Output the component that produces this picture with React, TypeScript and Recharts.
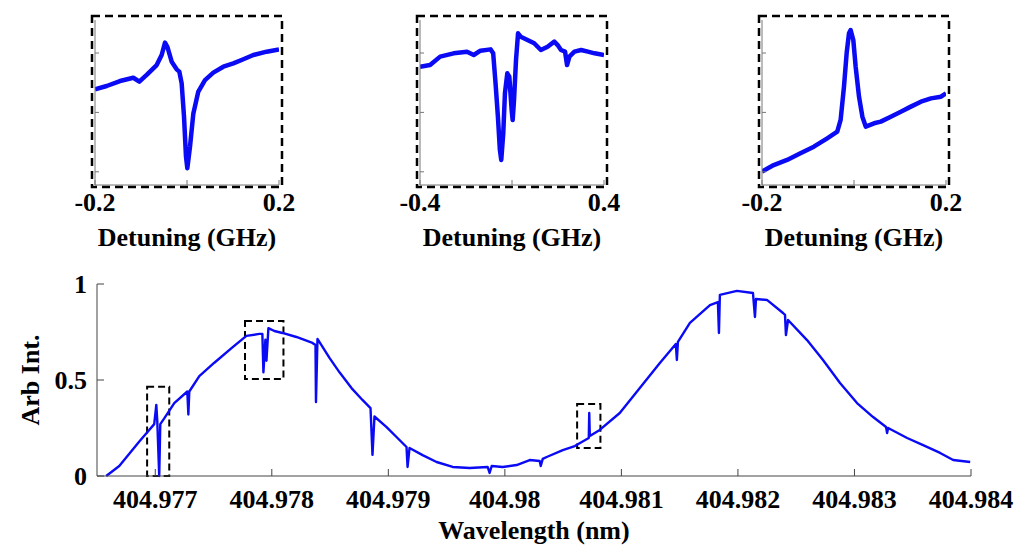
import React from 'react';
import { LineChart, Line, XAxis, YAxis, ReferenceArea, Label } from 'recharts';

// ---------- main spectrum ----------
const WAVELENGTH_NM = [
  404.976579, 404.976691, 404.976863, 404.976948, 404.976991, 404.977009, 404.977017, 404.977034, 404.977043, 404.977077,
  404.977163, 404.977275, 404.977284, 404.977292, 404.977378, 404.977507, 404.977662, 404.977782, 404.977893, 404.977919,
  404.977928, 404.977945, 404.977954, 404.977971, 404.978022, 404.978091, 404.978211, 404.978349, 404.978375, 404.978379,
  404.978392, 404.978495, 404.978581, 404.978684, 404.978778, 404.978847, 404.978864, 404.978881, 404.978985, 404.97907,
  404.979156, 404.979165, 404.979182, 404.979294, 404.979414, 404.979552, 404.979698, 404.979852, 404.979869, 404.979887,
  404.979981, 404.980101, 404.980213, 404.980299, 404.980308, 404.980325, 404.980359, 404.980497, 404.9806, 404.98072,
  404.980724, 404.980729, 404.980814, 404.980986, 404.981158, 404.98133, 404.981467, 404.981476, 404.981485, 404.981588,
  404.98176, 404.981828, 404.981837, 404.981845, 404.981991, 404.982129, 404.982146, 404.982155, 404.982249, 404.982387,
  404.982404, 404.982412, 404.98243, 404.982593, 404.98273, 404.982876, 404.983022, 404.98316, 404.983271, 404.98328,
  404.983289, 404.983452, 404.983589, 404.983735, 404.983847, 404.983993,
];
const ARB_INTENSITY = [
  0.0, 0.052, 0.18, 0.24, 0.27, 0.37, 0.29, 0.0, 0.27, 0.3,
  0.38, 0.44, 0.32, 0.44, 0.52, 0.59, 0.67, 0.73, 0.74, 0.74,
  0.54, 0.71, 0.6, 0.77, 0.755, 0.745, 0.724, 0.693, 0.682, 0.385,
  0.714, 0.615, 0.54, 0.458, 0.396, 0.354, 0.11, 0.31, 0.255, 0.203,
  0.151, 0.047, 0.146, 0.109, 0.073, 0.047, 0.042, 0.047, 0.016, 0.052,
  0.047, 0.057, 0.083, 0.078, 0.052, 0.089, 0.099, 0.135, 0.156, 0.198,
  0.328, 0.208, 0.24, 0.328, 0.458, 0.589, 0.688, 0.604, 0.698, 0.797,
  0.89, 0.906, 0.745, 0.943, 0.964, 0.953, 0.828, 0.922, 0.917, 0.849,
  0.839, 0.734, 0.8125, 0.708, 0.604, 0.484, 0.38, 0.307, 0.255, 0.224,
  0.25, 0.198, 0.161, 0.12, 0.083, 0.073,
];
const MAIN_X_TICKS = [404.977, 404.978, 404.979, 404.98, 404.981, 404.982, 404.983, 404.984];
const MAIN_Y_TICKS = [0, 0.5, 1];
const MAIN_X_DOMAIN = [404.9765, 404.984];

// dashed boxes marking the zoomed regions
const BOX_X1 = [404.97693, 404.97777, 404.98062];
const BOX_X2 = [404.97712, 404.9781, 404.98082];
const BOX_Y1 = [0, 0.505, 0.146];
const BOX_Y2 = [0.465, 0.807, 0.375];

// ---------- insets ----------
const INSET1_DETUNING = [
  -0.2, -0.1746, -0.1457, -0.1167, -0.1036, -0.0877, -0.0659, -0.0551, -0.0478, -0.0428,
  -0.0333, -0.0225, -0.0167, -0.0116, -0.0065, -0.0022, 0.0007, 0.0065, 0.0138, 0.0246,
  0.0391, 0.0572, 0.079, 0.1007, 0.1225, 0.1442, 0.1732, 0.2,
];
const INSET1_SIGNAL = [
  0.58, 0.6, 0.63, 0.65, 0.626, 0.667, 0.727, 0.788, 0.863, 0.838,
  0.747, 0.701, 0.687, 0.616, 0.414, 0.172, 0.101, 0.232, 0.434, 0.566,
  0.636, 0.681, 0.717, 0.737, 0.762, 0.788, 0.808, 0.822,
];
const INSET2_DETUNING = [
  -0.4, -0.3562, -0.3124, -0.254, -0.1956, -0.1664, -0.1372, -0.0934, -0.0818, -0.0715,
  -0.0613, -0.0526, -0.0467, -0.038, -0.0307, -0.0204, -0.0117, -0.0015, 0.0029, 0.0088,
  0.0175, 0.0263, 0.038, 0.0672, 0.0964, 0.1255, 0.1547, 0.1839, 0.1985, 0.2131,
  0.2307, 0.2394, 0.2496, 0.2715, 0.3007, 0.3299, 0.3591, 0.4,
];
const INSET2_SIGNAL = [
  0.717, 0.727, 0.778, 0.798, 0.808, 0.788, 0.814, 0.822, 0.798, 0.616,
  0.414, 0.212, 0.152, 0.313, 0.556, 0.677, 0.657, 0.455, 0.394, 0.515,
  0.758, 0.919, 0.899, 0.879, 0.859, 0.818, 0.838, 0.869, 0.848, 0.818,
  0.808, 0.727, 0.778, 0.808, 0.818, 0.808, 0.798, 0.788,
];
const INSET3_DETUNING = [
  -0.2, -0.1745, -0.1455, -0.1164, -0.0873, -0.0582, -0.0364, -0.0291, -0.0218, -0.016,
  -0.0109, -0.0073, -0.0015, 0.0036, 0.0109, 0.0182, 0.0255, 0.0436, 0.0582, 0.08,
  0.1018, 0.1236, 0.1455, 0.1673, 0.1891, 0.2,
];
const INSET3_SIGNAL = [
  0.081, 0.121, 0.152, 0.192, 0.232, 0.283, 0.323, 0.394, 0.596, 0.798,
  0.919, 0.939, 0.879, 0.717, 0.535, 0.414, 0.354, 0.374, 0.384, 0.414,
  0.444, 0.475, 0.505, 0.525, 0.535, 0.556,
];
const INSET1_X_TICKS = [-0.2, 0, 0.2];
const INSET2_X_TICKS = [-0.4, 0, 0.4];
const INSET3_X_TICKS = [-0.2, 0, 0.2];
const INSET_Y_TICKS = [0.08, 0.44, 0.8];

const FONT = 'Liberation Serif, DejaVu Serif, Times New Roman, serif';
const BLUE = '#0a0af5';
const TEXT_STYLE: React.CSSProperties = {
  fontFamily: FONT,
  fontSize: 26,
  fontWeight: 700,
  fill: '#000',
};
const TICK_STYLE = { fontFamily: FONT, fontSize: 26, fontWeight: 700, fill: '#000', style: TEXT_STYLE };

const mainData = WAVELENGTH_NM.map((w, i) => ({ w, v: ARB_INTENSITY[i] }));

const fmtMain = (v: number) => String(Number(v.toFixed(3)));
const blank = () => '';

type InsetProps = {
  xs: number[];
  ys: number[];
  ticks: number[];
  plotLeft: number;
};

const PLOT_TOP = 20;
const PLOT_BOTTOM = 185;
const PLOT_W = 184;
const SIDE = 45;

function Inset({ xs, ys, ticks, plotLeft }: InsetProps) {
  const data = xs.map((x, i) => ({ x, y: ys[i] }));
  const lo = ticks[0];
  const hi = ticks[ticks.length - 1];
  const fmt = (v: number) => (v === 0 ? '' : String(v));
  const width = PLOT_W + SIDE * 2;
  const height = 262;
  return (
    <div style={{ position: 'absolute', left: plotLeft - SIDE, top: 0, width, height }}>
      <LineChart
        width={width}
        height={height}
        data={data}
        margin={{ top: PLOT_TOP, right: SIDE, bottom: 0, left: 0 }}
        style={{ fontFamily: FONT }}
      >
        <XAxis
          xAxisId="b"
          dataKey="x"
          type="number"
          domain={[lo, hi]}
          ticks={ticks}
          tickFormatter={fmt}
          height={height - PLOT_BOTTOM}
          tickSize={-5}
          tickMargin={13}
          stroke="#777"
          tick={TICK_STYLE}
          allowDataOverflow
        >
          <Label value="Detuning (GHz)" position="center" dy={13} style={TEXT_STYLE} />
        </XAxis>
        <XAxis
          xAxisId="t"
          orientation="top"
          dataKey="x"
          type="number"
          domain={[lo, hi]}
          ticks={ticks}
          tickFormatter={blank}
          height={0}
          tickSize={-5}
          stroke="#777"
          allowDataOverflow
        />
        <YAxis
          yAxisId="l"
          type="number"
          domain={[0, 1]}
          ticks={INSET_Y_TICKS}
          tickFormatter={blank}
          width={SIDE}
          tickSize={-4}
          stroke="#777"
        />
        <YAxis
          yAxisId="r"
          orientation="right"
          type="number"
          domain={[0, 1]}
          ticks={INSET_Y_TICKS}
          tickFormatter={blank}
          width={0}
          tickSize={-4}
          stroke="#777"
        />
        <Line
          xAxisId="b"
          yAxisId="l"
          type="linear"
          dataKey="y"
          stroke={BLUE}
          strokeWidth={4.5}
          strokeLinejoin="round"
          dot={false}
          isAnimationActive={false}
        />
      </LineChart>
      <svg
        width={width}
        height={height}
        style={{ position: 'absolute', left: 0, top: 0, pointerEvents: 'none' }}
      >
        <rect
          x={SIDE - 3}
          y={PLOT_TOP - 4}
          width={PLOT_W + 6}
          height={PLOT_BOTTOM - PLOT_TOP + 6}
          fill="none"
          stroke="#000"
          strokeWidth={2.5}
          strokeDasharray="8 5"
        />
      </svg>
    </div>
  );
}

const YLabel = (props: any) => {
  const vb = props.viewBox || { x: 0, y: 284, width: 97, height: 192 };
  const cx = vb.x + 30;
  const cy = vb.y + vb.height / 2;
  return (
    <text
      x={cx}
      y={cy}
      transform={`rotate(-90 ${cx} ${cy})`}
      textAnchor="middle"
      dominantBaseline="central"
      fontFamily={FONT}
      fontSize={26}
      fontWeight={700}
      style={TEXT_STYLE}
    >
      Arb Int.
    </text>
  );
};

export default function App() {
  return (
    <div
      style={{
        position: 'absolute',
        left: 0,
        top: 0,
        width: 1024,
        height: 551,
        background: '#fff',
        overflow: 'hidden',
        fontFamily: FONT,
      }}
    >
      <Inset xs={INSET1_DETUNING} ys={INSET1_SIGNAL} ticks={INSET1_X_TICKS} plotLeft={95} />
      <Inset xs={INSET2_DETUNING} ys={INSET2_SIGNAL} ticks={INSET2_X_TICKS} plotLeft={420} />
      <Inset xs={INSET3_DETUNING} ys={INSET3_SIGNAL} ticks={INSET3_X_TICKS} plotLeft={762} />

      <div style={{ position: 'absolute', left: 0, top: 0 }}>
        <LineChart
          width={1024}
          height={551}
          data={mainData}
          margin={{ top: 284, right: 53, bottom: 0, left: 0 }}
          style={{ fontFamily: FONT }}
        >
          <XAxis
            xAxisId="b"
            dataKey="w"
            type="number"
            domain={MAIN_X_DOMAIN}
            ticks={MAIN_X_TICKS}
            tickFormatter={fmtMain}
            height={75}
            tickSize={-7}
            tickMargin={21}
            stroke="#444"
            tick={TICK_STYLE}
            allowDataOverflow
            interval={0}
          >
            <Label value="Wavelength (nm)" position="center" dy={16} style={TEXT_STYLE} />
          </XAxis>
          <XAxis
            xAxisId="t"
            orientation="top"
            dataKey="w"
            type="number"
            domain={MAIN_X_DOMAIN}
            ticks={MAIN_X_TICKS}
            tickFormatter={blank}
            height={0}
            tickSize={-7}
            stroke="#444"
            allowDataOverflow
            interval={0}
          />
          <YAxis
            yAxisId="l"
            type="number"
            domain={[0, 1]}
            ticks={MAIN_Y_TICKS}
            width={97}
            tickSize={-7}
            tickMargin={17}
            stroke="#444"
            tick={TICK_STYLE}
            interval={0}
          >
            <Label content={YLabel} />
          </YAxis>
          <YAxis
            yAxisId="r"
            orientation="right"
            type="number"
            domain={[0, 1]}
            ticks={MAIN_Y_TICKS}
            tickFormatter={blank}
            width={0}
            tickSize={-7}
            stroke="#444"
            interval={0}
          />
          <Line
            xAxisId="b"
            yAxisId="l"
            type="linear"
            dataKey="v"
            stroke={BLUE}
            strokeWidth={2.4}
            strokeLinejoin="round"
            dot={false}
            isAnimationActive={false}
          />
          {BOX_X1.map((x1, i) => (
            <ReferenceArea
              key={i}
              xAxisId="b"
              yAxisId="l"
              x1={x1}
              x2={BOX_X2[i]}
              y1={BOX_Y1[i]}
              y2={BOX_Y2[i]}
              fill="none"
              fillOpacity={0}
              stroke="#000"
              strokeWidth={2}
              strokeDasharray="7 4"
              ifOverflow="visible"
            />
          ))}
        </LineChart>
      </div>
    </div>
  );
}
